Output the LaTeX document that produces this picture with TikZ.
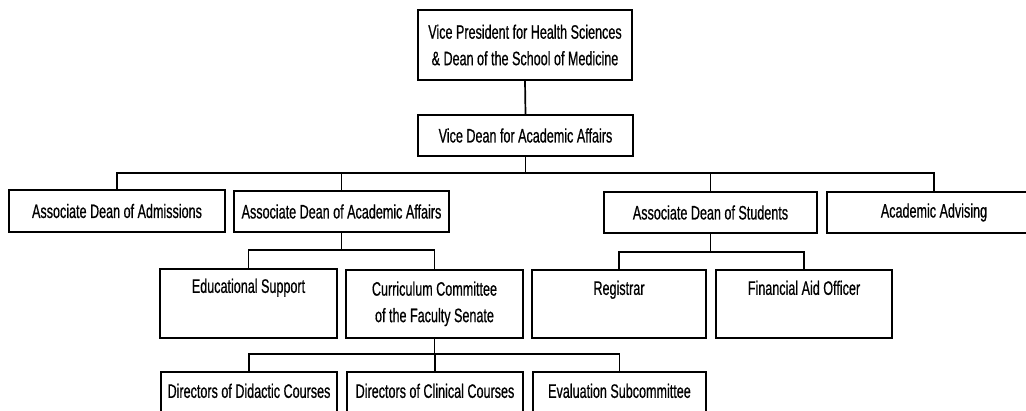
\documentclass[tikz,border=0pt]{standalone}
\usepackage{fontspec}
\setmainfont[FakeStretch=0.645, FakeBold=0.6]{Liberation Sans}
\begin{document}
\begin{tikzpicture}[x=1pt,y=-1pt,
  box/.style={draw=black, line width=1.7pt, inner sep=0pt, font=\fontsize{19.5}{26.5}\selectfont},
  conn/.style={draw=black, line width=1.7pt}]
\useasboundingbox (0,0) rectangle (1026,410);
\fill[white] (0,0) rectangle (1026,410);
\clip (0,0) rectangle (1026,410);
% top
\node[box, align=center, minimum width=214pt, minimum height=70pt] (vp) at (525,45) {Vice President for Health Sciences\\\& Dean of the School of Medicine};
\node[box, minimum width=215pt, minimum height=41pt] (vd) at (525.5,135.5) {Vice Dean for Academic Affairs};
% row 2
\node[box, minimum width=216pt, minimum height=42pt] (adm) at (117,211) {Associate Dean of Admissions};
\node[box, minimum width=215pt, minimum height=41pt] (aaa) at (341.5,211.5) {Associate Dean of Academic Affairs};
\node[box, minimum width=213pt, minimum height=41pt] (stu) at (710.5,212.5) {Associate Dean of Students};
\node[box, minimum width=214pt, minimum height=41pt] (adv) at (934,212.5) {Academic Advising};
% row 3
\node[box, anchor=north, minimum width=177pt, text height=24pt, text depth=45pt] (edu) at (248.5,268) {Educational Support};
\node[box, align=center, anchor=north, minimum width=177pt, minimum height=68pt] (cur) at (434.5,269) {Curriculum Committee\\of the Faculty Senate};
\node[box, anchor=north, minimum width=174pt, text height=25pt, text depth=43pt] (reg) at (619,269) {Registrar};
\node[box, anchor=north, minimum width=176pt, text height=25pt, text depth=43pt] (fin) at (804,269) {Financial Aid Officer};
% row 4
\node[box, anchor=north, minimum width=176pt, text height=26pt, text depth=40pt] (did) at (249,371) {Directors of Didactic Courses};
\node[box, anchor=north, minimum width=176pt, text height=26pt, text depth=40pt] (cli) at (435,371) {Directors of Clinical Courses};
\node[box, anchor=north, minimum width=173pt, text height=26pt, text depth=40pt] (eva) at (619.5,371) {Evaluation Subcommittee};
% bus levels
\coordinate (b1) at (0,173);
\coordinate (b2) at (0,250);
\coordinate (b3) at (0,252);
\coordinate (b4) at (0,354);
% connectors
\draw[conn] (vp.south) -- (vd.north);
\draw[conn] (vd.south) -- (vd.south |- b1);
\draw[conn] (adm.north) -- (adm.north |- b1) -- (adv.north |- b1) -- (adv.north);
\draw[conn] (aaa.north) -- (aaa.north |- b1);
\draw[conn] (stu.north) -- (stu.north |- b1);
\draw[conn] (aaa.south) -- (aaa.south |- b2);
\draw[conn] (edu.north) -- (edu.north |- b2) -- (cur.north |- b2) -- (cur.north);
\draw[conn] (stu.south) -- (stu.south |- b3);
\draw[conn] (reg.north) -- (reg.north |- b3) -- (fin.north |- b3) -- (fin.north);
\draw[conn] (cur.south) -- (cur.south |- b4);
\draw[conn] (did.north) -- (did.north |- b4) -- (eva.north |- b4) -- (eva.north);
\draw[conn] (cli.north) -- (cli.north |- b4);
\end{tikzpicture}
\end{document}
